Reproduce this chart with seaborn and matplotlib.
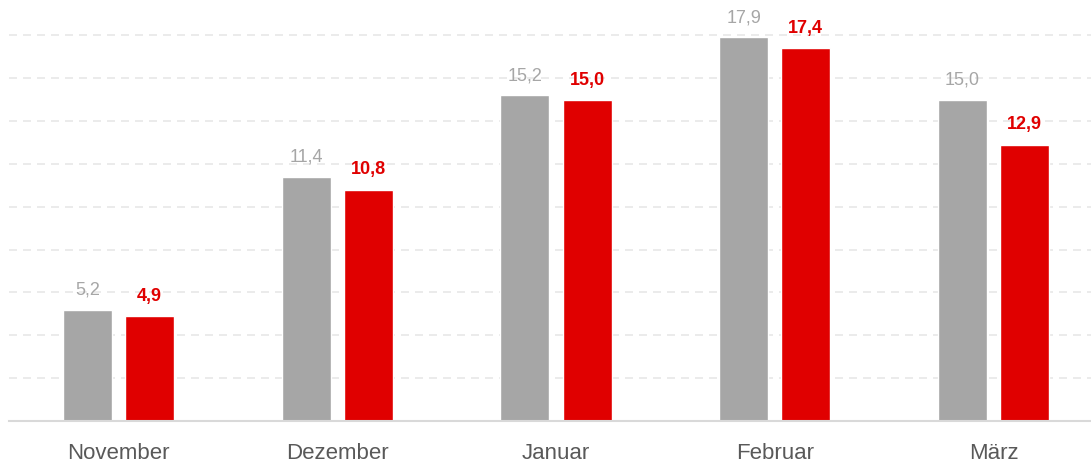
import pandas as pd
import numpy as np
import matplotlib
matplotlib.use('Agg')
import matplotlib.pyplot as plt
import seaborn as sns

# Data
months = ['November', 'Dezember', 'Januar', 'Februar', 'März']
previous = [5.2, 11.4, 15.2, 17.9, 15.0]
current = [4.9, 10.8, 15.0, 17.4, 12.9]
series_names = ['Vorjahr', 'Aktuell']
series_colors = ['#A6A6A6', '#E00000']

df = pd.DataFrame({
    'Monat': months * 2,
    'Wert': previous + current,
    'Reihe': [series_names[0]] * len(months) + [series_names[1]] * len(months),
})

# Figure and theme
sns.set_style('white')
plt.rcParams['font.family'] = ['Liberation Sans', 'DejaVu Sans']

fig = plt.figure(figsize=(10.91, 4.63), dpi=100)
ax = fig.add_axes([9 / 1091, 0.0907, 1094 / 1091, 0.87])

ax = sns.barplot(data=df, x='Monat', y='Wert', hue='Reihe', order=months,
                 hue_order=series_names, palette=series_colors,
                 width=0.567, gap=0.21, saturation=1, legend=False, ax=ax)

# Value labels
fmt = lambda v: f'{v:.1f}'.replace('.', ',')
ax.bar_label(ax.containers[0], labels=[fmt(v) for v in previous],
             padding=8, fontsize=13, color='#A6A6A6')
ax.bar_label(ax.containers[1], labels=[fmt(v) for v in current],
             padding=8, fontsize=13, color='#E00000', fontweight='bold')

# Gridlines and axes
ax.set_ylim(0, 18.8)
ax.set_yticks(np.arange(2, 19, 2))
ax.yaxis.grid(True, color='#E8E8E8', linewidth=1.2, linestyle=(0, (4.8, 3.6)))
ax.set_axisbelow(True)
ax.tick_params(axis='y', left=False, labelleft=False)
ax.tick_params(axis='x', bottom=False, labelsize=16, labelcolor='#595959', pad=12.5)
ax.set_xlabel('')
ax.set_ylabel('')
ax.set_xlim(-0.5, len(months) - 0.5)

for side in ['top', 'right', 'left']:
    ax.spines[side].set_visible(False)
ax.spines['bottom'].set_color('#D9D9D9')
ax.spines['bottom'].set_linewidth(1.5)

fig.savefig('out.png', dpi=100)
